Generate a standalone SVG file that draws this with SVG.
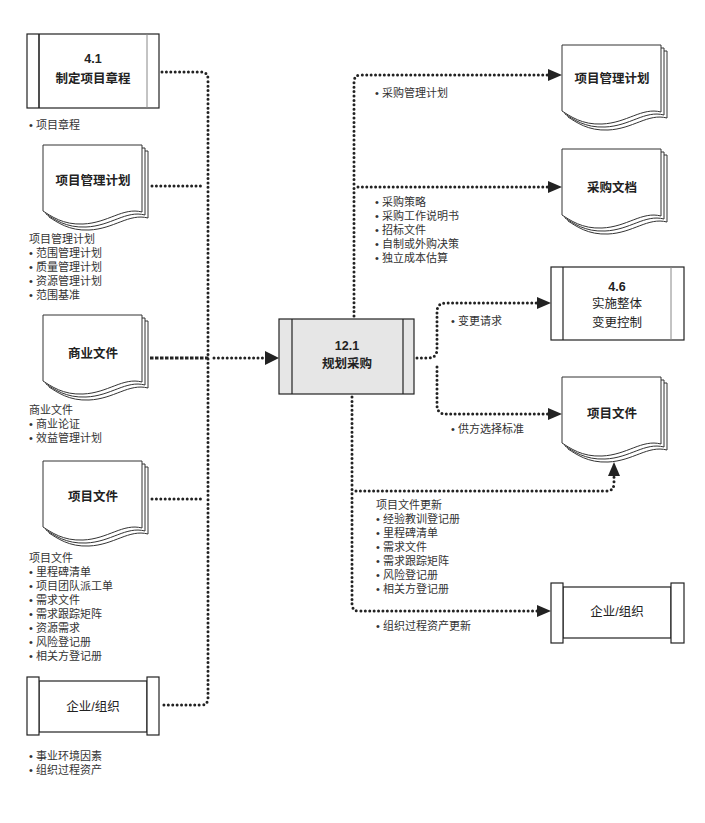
<svg xmlns="http://www.w3.org/2000/svg" width="705" height="823" viewBox="0 0 705 823">
<style>
.bg{fill:#fff}
.box{fill:#fff;stroke:#222;stroke-width:1.2}
.gbox{fill:#e6e6e6;stroke:#222;stroke-width:1.2}
.ln{stroke:#222;stroke-width:1.2;fill:none}
.lg{stroke:#888;stroke-width:1;fill:none}
.doc{fill:#fff;stroke:#333;stroke-width:1}
.title{font-family:"Liberation Sans","Noto Sans CJK SC",sans-serif;font-size:12.5px;font-weight:bold;fill:#222;text-anchor:middle}
.lbl{font-family:"Liberation Sans","Noto Sans CJK SC",sans-serif;font-size:11px;fill:#333}
.dot{fill:none;stroke:#222;stroke-width:3;stroke-linecap:round;stroke-dasharray:0 4.4}
.dash{fill:none;stroke:#222;stroke-width:3;stroke-dasharray:3.5 1.5}
.ah{fill:#222}
</style>
<defs>
<path id="pg" d="M0,0 H99 V67 C80,62 65,78 40,79 C20,80 8,71 0,66 Z"/>
<g id="docstack">
<use href="#pg" class="doc" x="6" y="6"/>
<use href="#pg" class="doc" x="3" y="3"/>
<use href="#pg" class="doc"/>
</g>
</defs>
<rect class="bg" width="705" height="823"/>

<g id="connectors">
<path class="dot" d="M162,72 H201 Q208,72 208,79 V698 Q208,705 201,705 H162"/>
<path class="dot" d="M152,186 H204"/>
<path class="dash" d="M150,358 H210"/>
<path class="dot" d="M214,358 H266"/>
<polygon class="ah" points="265,351 279,358 265,365"/>
<path class="dot" d="M152,499 H204"/>

<path class="dot" d="M354,316 V82 Q354,75 361,75 H548"/>
<polygon class="ah" points="548,69 562,75 548,81"/>
<path class="dot" d="M358,187 H548"/>
<polygon class="ah" points="548,181 562,187 548,193"/>
<path class="dot" d="M417,358 H428 Q437,358 437,349 V312 Q437,303 446,303 H537"/>
<polygon class="ah" points="537,297 551,303 537,309"/>
<path class="dot" d="M437,367 V405 Q437,414 446,414 H548"/>
<polygon class="ah" points="548,408 562,414 548,420"/>
<path class="dot" d="M352,397 V604 Q352,611 359,611 H537"/>
<polygon class="ah" points="537,605 551,611 537,617"/>
<path class="dot" d="M356,491 H606 Q614,491 614,483 V477"/>
<polygon class="ah" points="608,476 614,462 620,476"/>
</g>

<g id="n41">
<rect class="box" x="27" y="34" width="132" height="74"/>
<line class="ln" x1="39" y1="34" x2="39" y2="108" style="stroke-width:1.6"/>
<line class="lg" x1="147" y1="34" x2="147" y2="108"/>
<text class="title" x="93" y="63">4.1</text>
<text class="title" x="93" y="83">制定项目章程</text>
<text class="lbl" x="29" y="129">• 项目章程</text>
</g>

<g id="in-pmp">
<use href="#docstack" x="43" y="145"/>
<text class="title" x="93" y="185">项目管理计划</text>
<text class="lbl" x="29" y="243">项目管理计划</text>
<text class="lbl" x="29" y="257">• 范围管理计划</text>
<text class="lbl" x="29" y="271">• 质量管理计划</text>
<text class="lbl" x="29" y="285">• 资源管理计划</text>
<text class="lbl" x="29" y="299">• 范围基准</text>
</g>

<g id="in-bd">
<use href="#docstack" x="43" y="315"/>
<text class="title" x="93" y="358">商业文件</text>
<text class="lbl" x="29" y="414">商业文件</text>
<text class="lbl" x="29" y="428">• 商业论证</text>
<text class="lbl" x="29" y="442">• 效益管理计划</text>
</g>

<g id="in-pd">
<use href="#docstack" x="43" y="461"/>
<text class="title" x="93" y="501">项目文件</text>
<text class="lbl" x="29" y="562">项目文件</text>
<text class="lbl" x="29" y="576">• 里程碑清单</text>
<text class="lbl" x="29" y="590">• 项目团队派工单</text>
<text class="lbl" x="29" y="604">• 需求文件</text>
<text class="lbl" x="29" y="618">• 需求跟踪矩阵</text>
<text class="lbl" x="29" y="632">• 资源需求</text>
<text class="lbl" x="29" y="646">• 风险登记册</text>
<text class="lbl" x="29" y="660">• 相关方登记册</text>
</g>

<g id="in-eo">
<rect class="box" x="39" y="681" width="108" height="51"/>
<rect class="box" x="27" y="677" width="12" height="58"/>
<rect class="box" x="147" y="677" width="12" height="58"/>
<text class="title" x="93" y="711" style="font-weight:normal">企业/组织</text>
<text class="lbl" x="29" y="760">• 事业环境因素</text>
<text class="lbl" x="29" y="774">• 组织过程资产</text>
</g>

<g id="n121">
<rect class="gbox" x="279" y="319" width="135" height="75"/>
<line class="ln" x1="292" y1="319" x2="292" y2="394"/>
<line class="ln" x1="403" y1="319" x2="403" y2="394"/>
<text class="title" x="347" y="350">12.1</text>
<text class="title" x="347" y="368">规划采购</text>
</g>

<g id="out-pmp">
<use href="#docstack" x="562" y="45"/>
<text class="title" x="612" y="83">项目管理计划</text>
<text class="lbl" x="375" y="97">• 采购管理计划</text>
</g>

<g id="out-pdocs">
<use href="#docstack" x="562" y="149"/>
<text class="title" x="612" y="192">采购文档</text>
<text class="lbl" x="375" y="206">• 采购策略</text>
<text class="lbl" x="375" y="220">• 采购工作说明书</text>
<text class="lbl" x="375" y="234">• 招标文件</text>
<text class="lbl" x="375" y="248">• 自制或外购决策</text>
<text class="lbl" x="375" y="262">• 独立成本估算</text>
</g>

<g id="n46">
<rect class="box" x="551" y="267" width="133" height="73"/>
<line class="ln" x1="563" y1="267" x2="563" y2="340"/>
<line class="lg" x1="671" y1="267" x2="671" y2="340"/>
<text class="title" x="617" y="291">4.6</text>
<text class="title" x="617" y="308" style="font-weight:normal">实施整体</text>
<text class="title" x="617" y="327" style="font-weight:normal">变更控制</text>
<text class="lbl" x="451" y="325">• 变更请求</text>
</g>

<g id="out-pd">
<use href="#docstack" x="562" y="377"/>
<text class="title" x="612" y="418">项目文件</text>
<text class="lbl" x="451" y="433">• 供方选择标准</text>
<text class="lbl" x="376" y="509">项目文件更新</text>
<text class="lbl" x="376" y="523">• 经验教训登记册</text>
<text class="lbl" x="376" y="537">• 里程碑清单</text>
<text class="lbl" x="376" y="551">• 需求文件</text>
<text class="lbl" x="376" y="565">• 需求跟踪矩阵</text>
<text class="lbl" x="376" y="579">• 风险登记册</text>
<text class="lbl" x="376" y="593">• 相关方登记册</text>
</g>

<g id="out-eo">
<rect class="box" x="563" y="587" width="108" height="51"/>
<rect class="box" x="551" y="583" width="12" height="60"/>
<rect class="box" x="671" y="583" width="13" height="60"/>
<text class="title" x="617" y="616" style="font-weight:normal">企业/组织</text>
<text class="lbl" x="376" y="630">• 组织过程资产更新</text>
</g>
</svg>
